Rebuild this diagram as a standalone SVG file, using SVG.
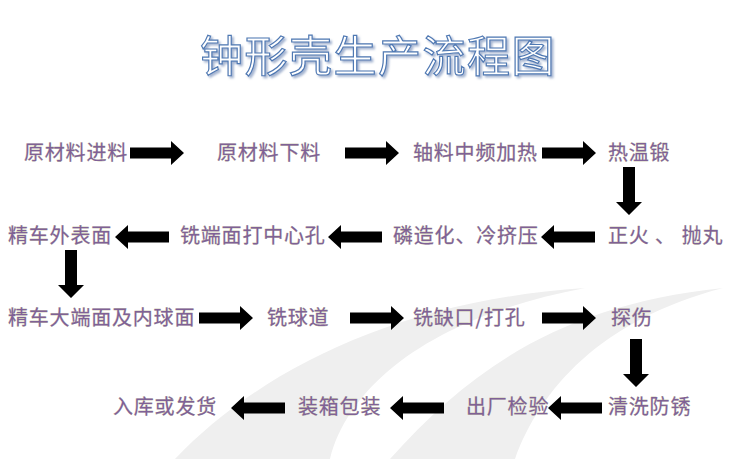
<svg xmlns="http://www.w3.org/2000/svg" xmlns:xlink="http://www.w3.org/1999/xlink" width="750" height="459" viewBox="0 0 750 459">
<defs>
<style>
.t{font-family:"Noto Sans CJK SC","Noto Sans CJK JP",sans-serif;font-size:20px;letter-spacing:0.8px;fill:#7f6196;stroke:#a8a676;stroke-width:0.35px;paint-order:stroke;}
.title{font-family:"Noto Sans CJK SC","Noto Sans CJK JP",sans-serif;font-size:43px;letter-spacing:1.5px;text-anchor:middle;fill:#ffffff;stroke:#5079b3;stroke-width:1.2px;}
.arr{fill:#000;}
.band{fill:#efefef;}
</style>
<filter id="sh" x="-10%" y="-20%" width="120%" height="150%">
<feGaussianBlur in="SourceAlpha" stdDeviation="1"/>
<feOffset dx="2" dy="2" result="o"/>
<feFlood flood-color="#7f95bd" flood-opacity="0.7"/>
<feComposite in2="o" operator="in"/>
<feMerge><feMergeNode/><feMergeNode in="SourceGraphic"/></feMerge>
</filter>
<path id="ah" d="M0,-5.5 H41 V-12 L54,0 L41,12 V5.5 H0 Z"/>
<path id="av" d="M-6,0 V35 H-13 L0,48 L13,35 H6 V0 Z"/>
</defs>
<rect width="750" height="459" fill="#fff"/>
<g id="background">
<path class="band" d="M175,459 C260,370 400,300 585,288 C440,315 350,380 330,459 Z"/>
<path class="band" d="M390,459 C470,370 560,305 723,288 C600,320 540,390 515,459 Z"/>
</g>
<g id="title">
<text class="title" x="378" y="72" filter="url(#sh)">钟形壳生产流程图</text>
</g>
<g id="connectors" class="arr">
<use xlink:href="#ah" transform="translate(130,153)"/>
<use xlink:href="#ah" transform="translate(345,153)"/>
<use xlink:href="#ah" transform="translate(542,153)"/>
<use xlink:href="#av" transform="translate(629,167)"/>
<use xlink:href="#ah" transform="translate(595,237) rotate(180)"/>
<use xlink:href="#ah" transform="translate(382,237) rotate(180)"/>
<use xlink:href="#ah" transform="translate(169,237) rotate(180)"/>
<use xlink:href="#av" transform="translate(71,250)"/>
<use xlink:href="#ah" transform="translate(199,318)"/>
<use xlink:href="#ah" transform="translate(350,318)"/>
<use xlink:href="#ah" transform="translate(542,318)"/>
<use xlink:href="#av" transform="translate(636,339)"/>
<use xlink:href="#ah" transform="translate(602,408) rotate(180)"/>
<use xlink:href="#ah" transform="translate(444,408) rotate(180)"/>
<use xlink:href="#ah" transform="translate(285,408) rotate(180)"/>
</g>
<g id="n1"><text class="t" x="24" y="160">原材料进料</text></g>
<g id="n2"><text class="t" x="217" y="160">原材料下料</text></g>
<g id="n3"><text class="t" x="413" y="160">轴料中频加热</text></g>
<g id="n4"><text class="t" x="608" y="160">热温锻</text></g>
<g id="n5"><text class="t" x="608" y="243">正火 、<tspan dx="6">抛丸</tspan></text></g>
<g id="n6"><text class="t" x="393" y="243">磷造化、冷挤压</text></g>
<g id="n7"><text class="t" x="180" y="243">铣端面打中心孔</text></g>
<g id="n8"><text class="t" x="8" y="243">精车外表面</text></g>
<g id="n9"><text class="t" x="8" y="325">精车大端面及内球面</text></g>
<g id="n10"><text class="t" x="267" y="325">铣球道</text></g>
<g id="n11"><text class="t" x="413" y="325">铣缺口/打孔</text></g>
<g id="n12"><text class="t" x="611" y="325">探伤</text></g>
<g id="n13"><text class="t" x="608" y="414">清洗防锈</text></g>
<g id="n14"><text class="t" x="466" y="414">出厂检验</text></g>
<g id="n15"><text class="t" x="298" y="414">装箱包装</text></g>
<g id="n16"><text class="t" x="113" y="414">入库或发货</text></g>
</svg>
